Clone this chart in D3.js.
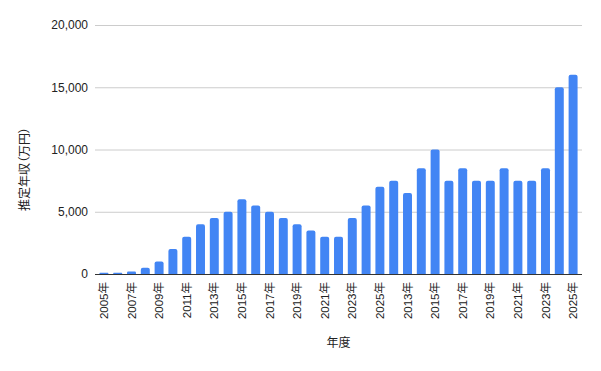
<!DOCTYPE html>
<html>
<head>
<meta charset="utf-8">
<script src="https://cdn.jsdelivr.net/npm/d3@7"></script>
<style>
  html, body { margin: 0; padding: 0; background: #fff; }
  svg { display: block; font-family: "Liberation Sans", Arial, "Noto Sans CJK JP", sans-serif; }
  .ytitle { font-feature-settings: "palt" 1; }
</style>
</head>
<body>
<svg id="chart" width="601" height="371"></svg>
<script>
const years = ["2005年","2006年","2007年","2008年","2009年","2010年","2011年","2012年","2013年","2014年","2015年","2016年","2017年","2018年","2019年","2020年","2021年","2022年","2023年","2024年","2025年",
  "2012年","2013年","2014年","2015年","2016年","2017年","2018年","2019年","2020年","2021年","2022年","2023年","2024年","2025年"];
const values = [100,100,200,500,1000,2000,3000,4000,4500,5000,6000,5500,5000,4500,4000,3500,3000,3000,4500,5500,7000,
  7500,6500,8500,10000,7500,8500,7500,7500,8500,7500,7500,8500,15000,16000];
const yTicks = [0,5000,10000,15000,20000];
const yTitle = "推定年収（万円）";
const xTitle = "年度";

const svg = d3.select("#chart");
const mLeft = 95, mRight = 582, mTop = 25, mBottom = 274;

const x = d3.scaleBand().domain(d3.range(years.length)).range([mLeft, mRight]).paddingInner(0.35).paddingOuter(0.32);
const y = d3.scaleLinear().domain([0, 20000]).range([mBottom, mTop]);

// gridlines
svg.append("g").selectAll("line").data(yTicks.filter(d => d > 0)).join("line")
  .attr("x1", mLeft).attr("x2", mRight)
  .attr("y1", d => y(d) + 0.5).attr("y2", d => y(d) + 0.5)
  .attr("stroke", "#cccccc").attr("stroke-width", 1);

// y tick labels
svg.append("g").selectAll("text").data(yTicks).join("text")
  .attr("x", 88).attr("y", d => y(d)).attr("dy", "0.36em")
  .attr("text-anchor", "end").attr("font-size", 12).attr("fill", "#222")
  .text(d => d3.format(",")(d));

// bars with rounded tops
const r = 2;
svg.append("g").selectAll("path").data(values).join("path")
  .attr("fill", "#4285f4")
  .attr("d", (d, i) => {
    const x0 = x(i), w = x.bandwidth(), y0 = y(d), y1 = y(0);
    const rr = Math.min(r, (y1 - y0) / 2);
    return `M${x0},${y1}V${y0 + rr}Q${x0},${y0} ${x0 + rr},${y0}H${x0 + w - rr}Q${x0 + w},${y0} ${x0 + w},${y0 + rr}V${y1}Z`;
  });

// baseline
svg.append("line").attr("x1", mLeft).attr("x2", mRight)
  .attr("y1", mBottom + 0.5).attr("y2", mBottom + 0.5)
  .attr("stroke", "#333").attr("stroke-width", 1);

// x tick labels
const xAxis = d3.axisBottom(x)
  .tickValues(d3.range(0, years.length, 2))
  .tickFormat(i => years[i]).tickSize(0).tickPadding(0);
const gx = svg.append("g").attr("transform", `translate(0,${mBottom})`).call(xAxis);
gx.select(".domain").remove();
gx.attr("font-family", null);
gx.selectAll("text")
  .attr("font-size", 11.5).attr("fill", "#222")
  .attr("text-anchor", "end")
  .attr("transform", "rotate(-90)")
  .attr("x", -8).attr("y", 0).attr("dy", "0.36em");

// axis titles
svg.append("text").attr("x", (mLeft + mRight) / 2).attr("y", 347)
  .attr("text-anchor", "middle").attr("font-size", 12).attr("fill", "#222")
  .text(xTitle);
svg.append("text").attr("class", "ytitle").attr("transform", "translate(29,169) rotate(-90)")
  .attr("text-anchor", "middle").attr("font-size", 12).attr("fill", "#222")
  .text(yTitle);
</script>
</body>
</html>
